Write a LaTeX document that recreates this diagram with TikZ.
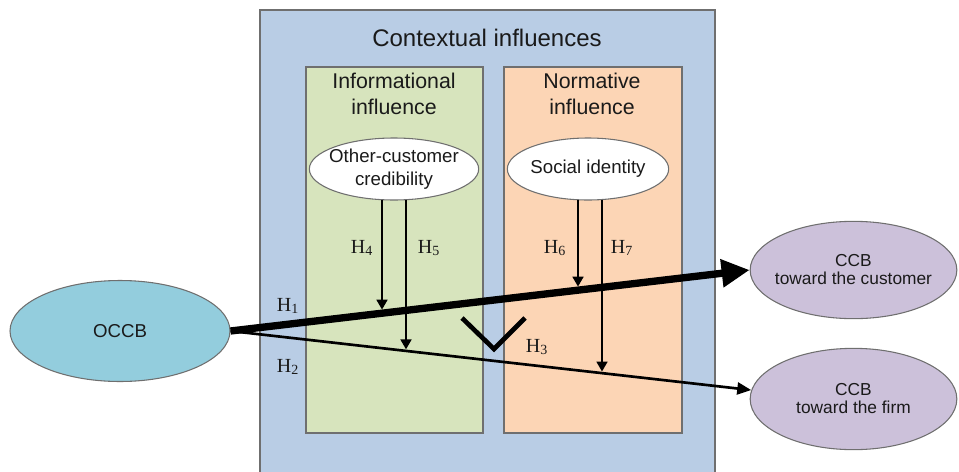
\documentclass[tikz,border=0pt]{standalone}
\usepackage{fontspec}
\setmainfont{Liberation Sans}
\newfontfamily\hserif{Liberation Serif}
\usetikzlibrary{shapes.geometric,arrows.meta,calc}
\definecolor{ctxblue}{HTML}{B9CDE5}
\definecolor{infogreen}{HTML}{D7E4BD}
\definecolor{normorange}{HTML}{FCD5B5}
\definecolor{occbcyan}{HTML}{93CDDD}
\definecolor{ccbpurple}{HTML}{CCC1DA}
\definecolor{edgegrey}{HTML}{6F6F6F}
\definecolor{txt}{HTML}{1A1A1A}
\begin{document}
\begin{tikzpicture}[x=0.75pt,y=-0.75pt,
  every node/.style={text=txt},
  boxtitle/.style={font=\fontsize{18}{21}\selectfont, align=center},
  subtitle/.style={font=\fontsize{16}{20}\selectfont, align=center},
  ellbase/.style={ellipse, draw=edgegrey, line width=0.8pt, inner xsep=-15pt, inner ysep=-10pt, align=center},
  innerell/.style={ellbase, fill=white, minimum height=46.5pt, font=\fontsize{14}{17.5}\selectfont},
  occbell/.style={ellbase, fill=occbcyan, minimum width=165pt, minimum height=75.75pt, font=\fontsize{14}{17}\selectfont},
  ccbell/.style={ellbase, fill=ccbpurple, minimum width=155pt, minimum height=73pt, font=\fontsize{13}{13.5}\selectfont},
  hlabel/.style={font=\hserif\fontsize{15}{17}\selectfont, inner sep=0pt},
  thickarrow/.style={line width=5.5pt, -{Triangle[length=21pt,width=20pt]}},
  thinarrow/.style={line width=2pt, -{Triangle[length=10.5pt,width=9pt]}},
  modarrow/.style={line width=2pt, -{Triangle[length=7.5pt,width=8pt]}},
]
\useasboundingbox (0,0) rectangle (959,471);
% background panels
\path[fill=ctxblue, draw=edgegrey, line width=0.8pt] (260,10) rectangle (715,490);
\path[fill=infogreen, draw=edgegrey, line width=0.8pt] (306,67) rectangle (483,433);
\path[fill=normorange, draw=edgegrey, line width=0.8pt] (504,67) rectangle (682,433);
% titles
\node[boxtitle] (ctx) at (487,38) {Contextual influences};
\node[subtitle] (info) at (394,94) {Informational\\influence};
\node[subtitle] (norm) at (592,94) {Normative\\influence};
% ellipses
\node[innerell, minimum width=127pt] (cred) at (394,169) {Other-customer\\credibility};
\node[innerell, minimum width=121pt] (soc) at (588,169) {Social identity};
\node[occbell] (occb) at (120,331) {OCCB};
\node[ccbell] (cust) at (853.5,270) {CCB\\toward the customer};
\node[ccbell, minimum height=76pt] (firm) at (853.5,399) {CCB\\toward the firm};
% main paths
\draw[thickarrow] (occb.east) -- (cust.west);
\draw[thinarrow] (occb.east) -- (firm.175);
% points on the main paths
\coordinate (p4) at ($(occb.east)!0.2923!(cust.west)+(0,-3.5)$);
\coordinate (p6) at ($(occb.east)!0.6692!(cust.west)+(0,-3.5)$);
\coordinate (p5) at ($(occb.east)!0.3374!(firm.175)+(0,-1.5)$);
\coordinate (p7) at ($(occb.east)!0.7132!(firm.175)+(0,-1.5)$);
\coordinate (s4) at ([xshift=-9pt,yshift=0.6pt]cred.south);
\coordinate (s5) at ([xshift=9pt,yshift=0.6pt]cred.south);
\coordinate (s6) at ([xshift=-7.5pt,yshift=0.6pt]soc.south);
\coordinate (s7) at ([xshift=10.5pt,yshift=0.6pt]soc.south);
\draw[modarrow] (s4) -- (s4 |- p4);
\draw[modarrow] (s5) -- (s5 |- p5);
\draw[modarrow] (s6) -- (s6 |- p6);
\draw[modarrow] (s7) -- (s7 |- p7);
% interaction mark
\draw[line width=3.5pt] (462,318) -- (494,349) -- (525,318);
% labels
\node[hlabel] (h1) at (288,306) {H\textsubscript{1}};
\node[hlabel] (h2) at (288,367) {H\textsubscript{2}};
\node[hlabel] (h3) at (537,347) {H\textsubscript{3}};
\node[hlabel] (h4) at (362,248) {H\textsubscript{4}};
\node[hlabel] (h5) at (429,248) {H\textsubscript{5}};
\node[hlabel] (h6) at (555,248) {H\textsubscript{6}};
\node[hlabel] (h7) at (622,248) {H\textsubscript{7}};
\end{tikzpicture}
\end{document}
